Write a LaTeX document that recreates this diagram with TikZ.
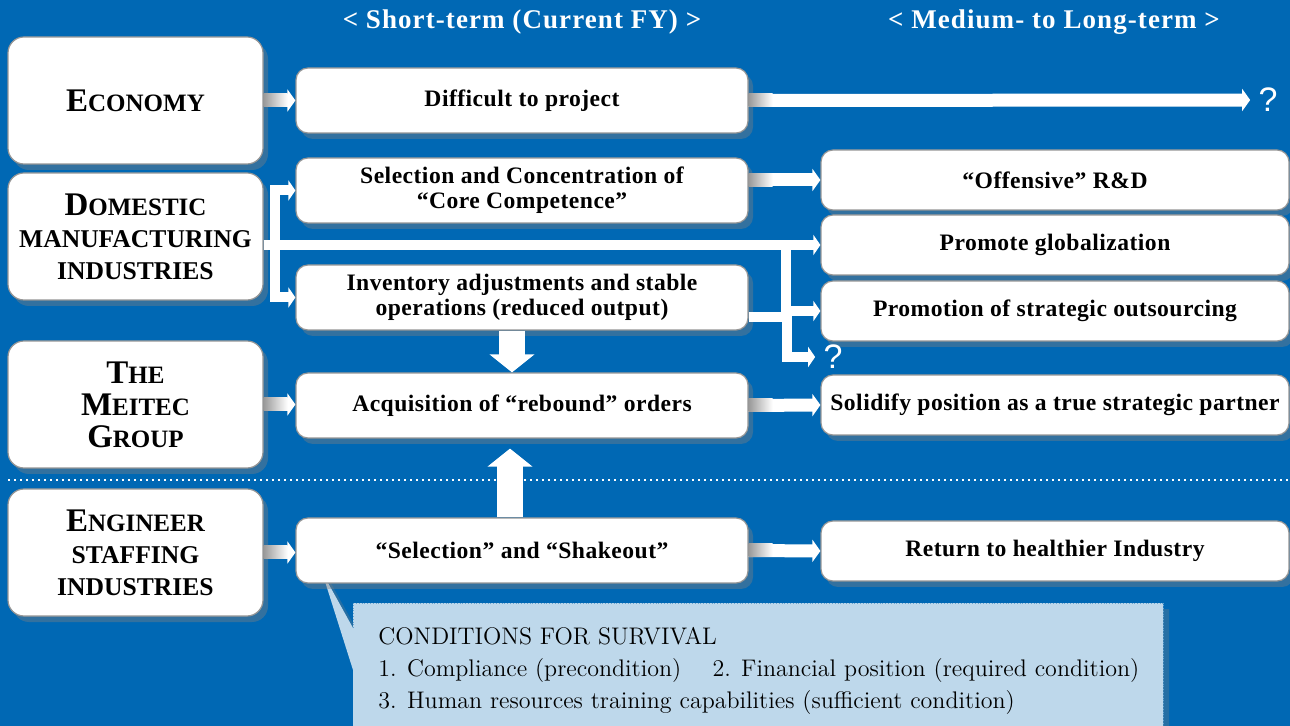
\documentclass[tikz,border=0pt]{standalone}
\usepackage{fontspec}
\newfontfamily\boxfont[LetterSpace=2]{Liberation Serif}
\newfontfamily\sectorfont{Liberation Serif}
\newfontfamily\headfont[LetterSpace=4]{Liberation Serif}
\newfontfamily\qfont{Liberation Sans}
\usetikzlibrary{arrows.meta}
\usetikzlibrary{shadows}

\definecolor{bgblue}{RGB}{0,104,180}
\definecolor{notefill}{RGB}{190,216,235}
\definecolor{rimgray}{RGB}{150,150,150}

% fake small caps: big initial, smaller rest
\newcommand{\capsword}[2]{{\fontsize{16.5}{16}\selectfont #1}{\fontsize{12.5}{16}\selectfont #2}}
\newcommand{\capsline}[1]{{\fontsize{12.8}{16}\selectfont #1}}

\begin{document}
\begin{tikzpicture}[x=0.5pt, y=-0.5pt,
    panel/.style = {draw=rimgray, fill=white, line width=0.6pt, rounded corners=6pt,
        drop shadow={opacity=0.4, shadow xshift=2.5pt, shadow yshift=-3pt},
        align=center, text=black},
    sector/.style = {panel, rounded corners=8pt, minimum width=127.5pt, minimum height=63.5pt,
        font=\sectorfont\bfseries\fontsize{12.5}{16}\selectfont},
    stage/.style = {panel, minimum width=226pt, minimum height=32.5pt,
        font=\boxfont\bfseries\fontsize{11.8}{12.5}\selectfont},
    goal/.style = {panel, minimum width=234pt, minimum height=30pt,
        font=\boxfont\bfseries\fontsize{11.8}{12.5}\selectfont},
    header/.style = {text=white, font=\headfont\bfseries\fontsize{13.5}{14}\selectfont},
    unknown/.style = {text=white, inner sep=4pt, font=\qfont\fontsize{17}{17}\selectfont},
    flow/.style = {white, line width=6.5pt, -{Triangle[width=11pt, length=4pt]}},
    branch/.style = {white, line width=5pt, -{Triangle[width=10pt, length=3.5pt]}},
    push/.style = {white, line width=13pt, -{Triangle[width=22pt, length=9pt]}},
    fadein/.style = {left color=black!40, right color=white},
    note/.style = {anchor=north west, inner sep=0pt, align=left,
        font=\fontsize{12}{16}\selectfont}
]
    % background
    \fill[bgblue] (0,0) rectangle (1290,726);
    \useasboundingbox (0,0) rectangle (1290,726);

    % column headers
    \node[header] (short) at (522,22) {< Short-term (Current FY) >};
    \node[header] (long) at (1054,22) {< Medium- to Long-term >};

    % separator
    \draw[white, dotted, line width=1pt] (8,480) -- (1290,480);

    % callout with pointer
    \fill[notefill, drop shadow={opacity=0.3, shadow xshift=3pt, shadow yshift=-3pt}]
        (353,603) -- (1163,603) -- (1163,730) -- (353,730) -- (353,670)
        -- (322,572) -- (353,628) -- cycle;
    \draw[bgblue!60, densely dotted, line width=0.4pt] (353,628) -- (353,603) -- (1163,603) -- (1163,726);
    \node[note] (survival) at (378,627) {CONDITIONS FOR SURVIVAL\\
        1. Compliance (precondition)\hspace{1.3em}2. Financial position (required condition)\\
        3. Human resources training capabilities (sufficient condition)};

    % left column
    \node[sector] (eco) at (135.5,100.5) {\capsword{E}{CONOMY}};
    \node[sector] (dom) at (135.5,236.5) {\capsword{D}{OMESTIC}\\ \capsline{MANUFACTURING}\\ \capsline{INDUSTRIES}};
    \node[sector] (mei) at (135.5,404.5) {\capsword{T}{HE}\\ \capsword{M}{EITEC}\\ \capsword{G}{ROUP}};
    \node[sector] (eng) at (135.5,552.5) {\capsword{E}{NGINEER}\\ \capsline{STAFFING}\\ \capsline{INDUSTRIES}};

    % short-term column
    \node[stage] (diff) at (522,100.5) {Difficult to project};
    \node[stage] (sel) at (522,190.5) {Selection and Concentration of\\ “Core Competence”};
    \node[stage] (inv) at (522,297.5) {Inventory adjustments and stable\\ operations (reduced output)};
    \node[stage] (acq) at (522,405.5) {Acquisition of “rebound” orders};
    \node[stage] (shk) at (522,550.5) {“Selection” and “Shakeout”};

    % medium- to long-term column
    \node[goal] (off) at (1055,180) {“Offensive” R\&D};
    \node[goal] (glob) at (1055,245) {Promote globalization};
    \node[goal] (outs) at (1055,311) {Promotion of strategic outsourcing};
    \node[goal] (sol) at (1055,405) {Solidify position as a true strategic partner};
    \node[goal] (ret) at (1055,551) {Return to healthier Industry};

    \node[unknown] (q1) at (1268,100) {?};
    \node[unknown] (q2) at (833,357) {?};

    % arrows
    \draw[flow] (eco.east) -- (diff.west);
    \draw[flow] (diff.east) -- (q1.west);
    \draw[flow] (mei.east) -- (mei.east -| acq.west);
    \draw[flow] (eng.east) -- (eng.east -| shk.west);
    \draw[flow] (sel.east |- off.west) -- (off.west);
    \draw[flow] (acq.east) -- (sol.west);
    \draw[flow] (shk.east) -- (ret.west);

    % shadowed start of the shafts
    \foreach \src in {eco,diff,mei,eng,acq,shk}
        \shade[fadein] (\src.east) ++(0,-6.5) rectangle ++(24,13);
    \shade[fadein] (sel.east |- off.west) ++(0,-6.5) rectangle ++(24,13);

    % domestic branches
    \coordinate (fork) at (275,245);
    \coordinate (gfork) at (786,245);
    \coordinate (qbend) at (787,317.5);
    \draw[branch] (dom.east |- glob.west) -- (glob.west);
    \draw[branch] (fork) |- (sel.west);
    \draw[branch] (fork) |- (inv.west);
    \draw[branch] (gfork) |- (outs.west);
    \draw[branch] ([yshift=-10pt]inv.east) -- (qbend) |- (q2.west);

    % vertical arrows
    \draw[push] ([xshift=-5pt]inv.south) -- ([xshift=-5pt]acq.north);
    \draw[push, shorten >=5pt] ([xshift=-6pt]shk.north) -- ([xshift=-6pt]acq.south);

\end{tikzpicture}
\end{document}
